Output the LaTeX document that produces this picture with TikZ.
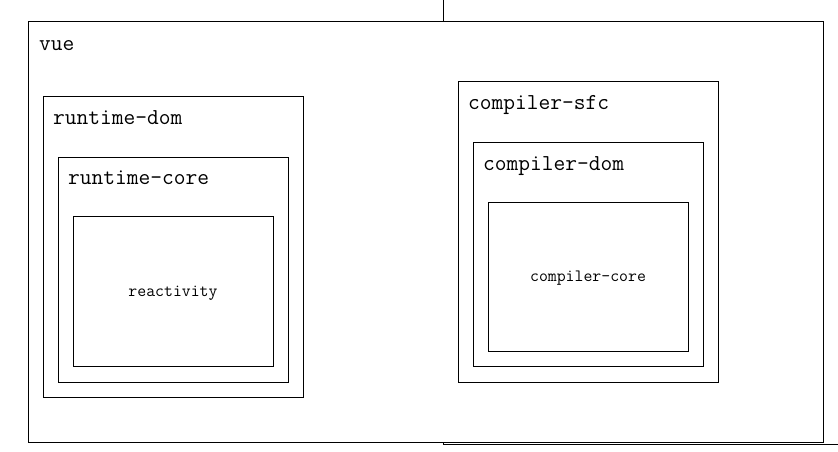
\documentclass[tikz,border=0pt]{standalone}
\usepackage{fontspec}
\setmonofont{Latin Modern Mono}
\begin{document}
\begin{tikzpicture}[x=1pt,y=-1pt,
  box/.style={draw=black,line width=1pt,fill=white,inner sep=0pt,outer sep=0pt},
  biglabel/.style={anchor=mid west,inner sep=0pt,font=\ttfamily\fontsize{22.8}{26}\selectfont},
  smalllabel/.style={anchor=mid,inner sep=0pt,font=\ttfamily\fontsize{17.3}{20}\selectfont}]
\useasboundingbox (0,0) rectangle (838,452);
\clip (0,0) rectangle (838,452);
% background frame partly hidden
\draw[line width=1pt] (443,-5) -- (443,444) -- (845,444);
% outer vue box
\node[box,minimum width=795pt,minimum height=420pt] (vue) at (425.5,232) {};
\node[biglabel] (vuelbl) at (39,48) {vue};
% runtime side
\node[box,minimum width=260pt,minimum height=301pt] (rdom) at (173,246.5) {};
\node[biglabel] (rdomlbl) at (53,122.5) {runtime-dom};
\node[box,minimum width=230pt,minimum height=225pt] (rcore) at (173,269.5) {};
\node[biglabel] (rcorelbl) at (68,182.5) {runtime-core};
\node[box,minimum width=200pt,minimum height=150pt] (react) at (173,291) {};
\node[smalllabel] (reactlbl) at (173,294) {reactivity};
% compiler side
\node[box,minimum width=260pt,minimum height=300pt] (csfc) at (588,232) {};
\node[biglabel] (csfclbl) at (468,107.5) {compiler-sfc};
\node[box,minimum width=230pt,minimum height=224pt] (cdom) at (588,254) {};
\node[biglabel] (cdomlbl) at (483,168.5) {compiler-dom};
\node[box,minimum width=200pt,minimum height=149pt] (ccore) at (588,276.5) {};
\node[smalllabel] (ccorelbl) at (588,279) {compiler-core};
\end{tikzpicture}
\end{document}
